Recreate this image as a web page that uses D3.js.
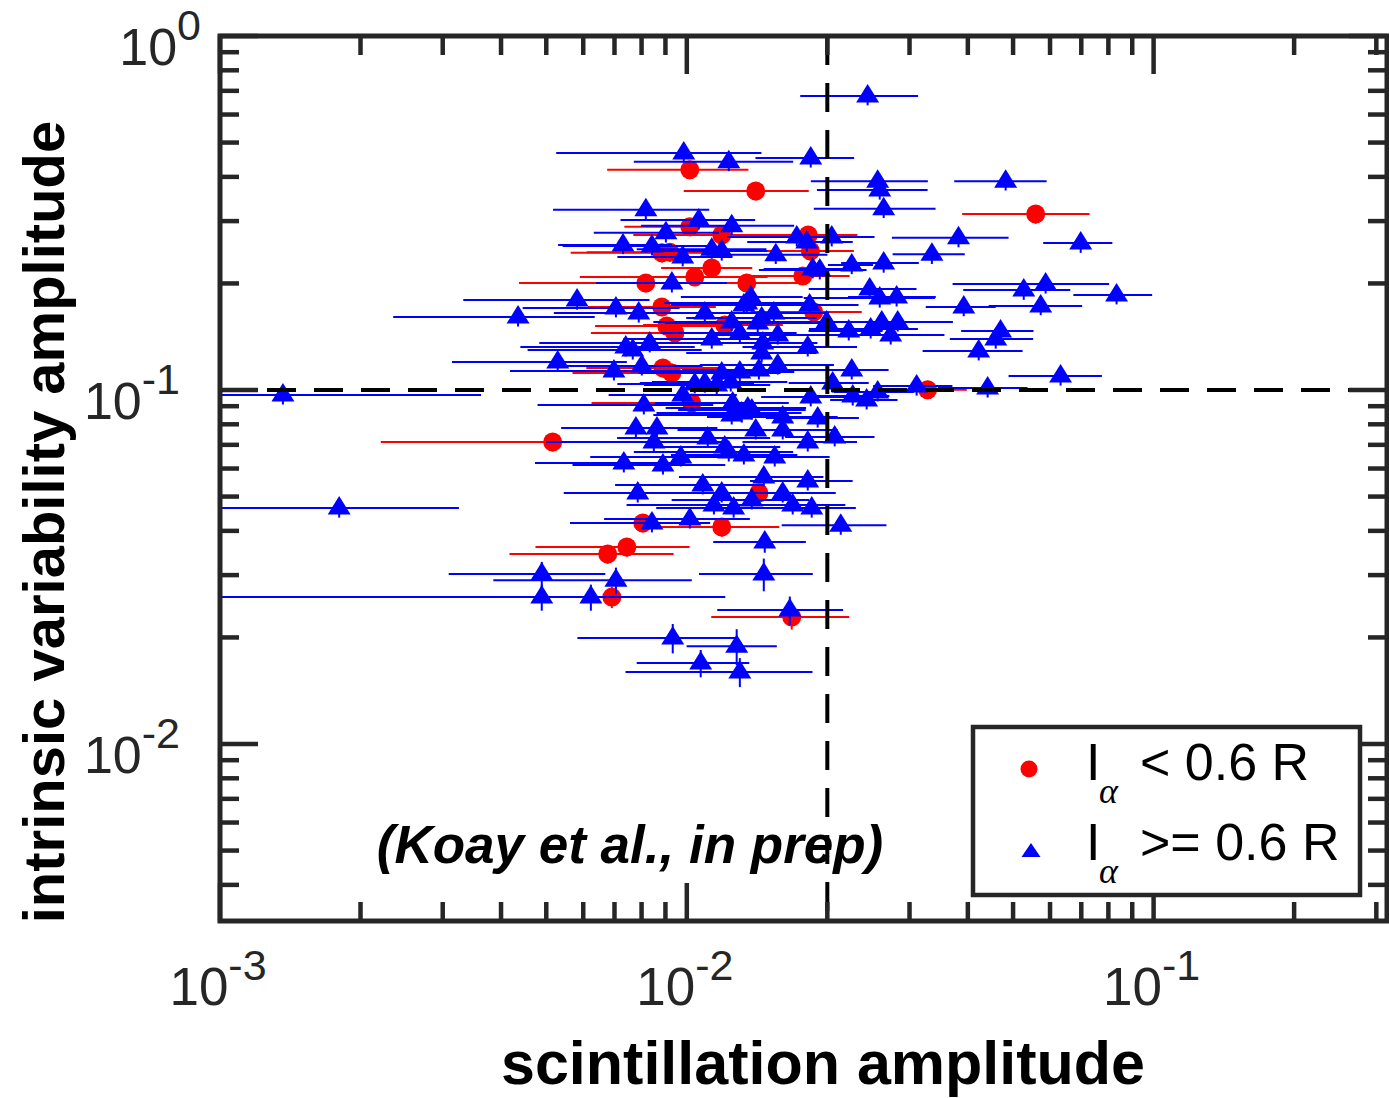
<!DOCTYPE html>
<html>
<head>
<meta charset="utf-8">
<script src="https://cdn.jsdelivr.net/npm/d3@7"></script>
<style>
  body { margin: 0; background: #fff; }
  svg { display: block; }
</style>
</head>
<body>
<svg id="chart" width="1389" height="1098"></svg>
<script>
// rows: [scintillation amplitude, intrinsic variability amplitude, x error, y error]
const lowHalpha = [
  [0.01015, 0.419, 0.0034, 0.025], [0.01405, 0.365, 0.0042, 0.022], [0.0559, 0.314, 0.017, 0.019],
  [0.01015, 0.289, 0.0028, 0.017], [0.01188, 0.274, 0.0042, 0.016], [0.0182, 0.274, 0.005, 0.016],
  [0.0184, 0.247, 0.0044, 0.015], [0.00884, 0.244, 0.0032, 0.015], [0.0092, 0.245, 0.0031, 0.015],
  [0.01131, 0.221, 0.0025, 0.013], [0.0104, 0.2085, 0.0045, 0.012], [0.01344, 0.2006, 0.0047, 0.012],
  [0.01772, 0.210, 0.0046, 0.012], [0.00817, 0.2006, 0.0038, 0.012], [0.00884, 0.1716, 0.0027, 0.010],
  [0.00906, 0.1516, 0.0027, 0.009], [0.00943, 0.1449, 0.0032, 0.009], [0.01206, 0.1526, 0.004, 0.009],
  [0.0187, 0.1661, 0.005, 0.010], [0.00889, 0.1154, 0.0028, 0.007], [0.00929, 0.1117, 0.0036, 0.007],
  [0.0328, 0.1002, 0.007, 0.006], [0.01025, 0.0919, 0.004, 0.0055], [0.00516, 0.0713, 0.00295, 0.0043],
  [0.01427, 0.0512, 0.0057, 0.0031], [0.00805, 0.0421, 0.0023, 0.0025], [0.01188, 0.0410, 0.0039, 0.0025],
  [0.00744, 0.0360, 0.0027, 0.0022], [0.00677, 0.0344, 0.0026, 0.0021], [0.00691, 0.0260, 0.0024, 0.0018],
  [0.01678, 0.02285, 0.0055, 0.0018]
];

const highHalpha = [
  [0.0244, 0.677, 0.0069, 0.04], [0.00985, 0.467, 0.0046, 0.028], [0.0123, 0.441, 0.0046, 0.026],
  [0.01843, 0.452, 0.0044, 0.027], [0.02564, 0.389, 0.0072, 0.023], [0.0259, 0.367, 0.0069, 0.022],
  [0.02641, 0.325, 0.0077, 0.019], [0.0482, 0.389, 0.0108, 0.023], [0.00817, 0.323, 0.003, 0.019],
  [0.0382, 0.269, 0.0107, 0.016], [0.0698, 0.260, 0.0118, 0.016], [0.0335, 0.242, 0.0059, 0.015],
  [0.01061, 0.302, 0.0034, 0.018], [0.01248, 0.291, 0.0045, 0.017], [0.00902, 0.278, 0.0027, 0.017],
  [0.0172, 0.2705, 0.005, 0.016], [0.01807, 0.262, 0.0046, 0.016], [0.02044, 0.2705, 0.0048, 0.016],
  [0.0073, 0.257, 0.002, 0.015], [0.00842, 0.255, 0.003, 0.015], [0.0098, 0.2375, 0.0027, 0.014],
  [0.01131, 0.250, 0.0035, 0.015], [0.01188, 0.247, 0.003, 0.015], [0.01551, 0.241, 0.0045, 0.014],
  [0.02256, 0.2255, 0.0025, 0.013], [0.02641, 0.2285, 0.005, 0.014], [0.01861, 0.2197, 0.004, 0.013],
  [0.01927, 0.2183, 0.005, 0.013], [0.00929, 0.2006, 0.0029, 0.012], [0.02465, 0.1929, 0.0064, 0.012],
  [0.0259, 0.1819, 0.0081, 0.011], [0.02815, 0.1831, 0.006, 0.011], [0.0527, 0.1917, 0.0136, 0.012],
  [0.0587, 0.1993, 0.0216, 0.012], [0.0833, 0.1855, 0.016, 0.011], [0.00582, 0.1796, 0.0025, 0.011],
  [0.01371, 0.1831, 0.004, 0.011], [0.01344, 0.1761, 0.0045, 0.011], [0.00705, 0.1704, 0.0026, 0.010],
  [0.00789, 0.1651, 0.0027, 0.010], [0.01093, 0.1651, 0.0035, 0.010], [0.01325, 0.1739, 0.004, 0.010],
  [0.01536, 0.1651, 0.0048, 0.010], [0.01833, 0.1739, 0.005, 0.010], [0.0392, 0.1716, 0.0067, 0.010],
  [0.0573, 0.1727, 0.013, 0.010], [0.00435, 0.1608, 0.002, 0.0097], [0.01248, 0.1556, 0.004, 0.0093],
  [0.01447, 0.1597, 0.0045, 0.0096], [0.01419, 0.1546, 0.0052, 0.0093], [0.01994, 0.1556, 0.005, 0.0093],
  [0.02223, 0.1468, 0.004, 0.0088], [0.02477, 0.1487, 0.0065, 0.0089], [0.02616, 0.1556, 0.011, 0.0093],
  [0.0283, 0.1556, 0.007, 0.0093], [0.02734, 0.143, 0.0083, 0.0086], [0.0470, 0.1468, 0.0083, 0.0088],
  [0.0459, 0.1393, 0.0093, 0.0084], [0.01131, 0.1393, 0.004, 0.0084], [0.01299, 0.1449, 0.0042, 0.0087],
  [0.01566, 0.143, 0.0043, 0.0086], [0.0074, 0.1323, 0.003, 0.0079], [0.00766, 0.1297, 0.0031, 0.0078],
  [0.00833, 0.1358, 0.0035, 0.0081], [0.01455, 0.1358, 0.0045, 0.0081], [0.01816, 0.1323, 0.005, 0.0079],
  [0.0422, 0.1289, 0.0102, 0.0077], [0.00529, 0.120, 0.00215, 0.0072], [0.00698, 0.1132, 0.0028, 0.0068],
  [0.00801, 0.1169, 0.0028, 0.007], [0.01447, 0.1272, 0.0045, 0.0076], [0.01566, 0.1177, 0.005, 0.0071],
  [0.01427, 0.1139, 0.0045, 0.0068], [0.01299, 0.1124, 0.004, 0.0067], [0.01188, 0.1117, 0.004, 0.0067],
  [0.02256, 0.1139, 0.0045, 0.0068], [0.0632, 0.1095, 0.0143, 0.0066], [0.01242, 0.1053, 0.004, 0.0063],
  [0.01159, 0.1033, 0.0035, 0.0062], [0.01093, 0.1046, 0.003, 0.0063], [0.0104, 0.104, 0.0033, 0.0062],
  [0.02053, 0.1046, 0.004, 0.0063], [0.03107, 0.1026, 0.006, 0.0062], [0.0441, 0.1013, 0.0096, 0.0061],
  [0.001364, 0.0968, 0.00226, 0.0058], [0.0098, 0.0968, 0.003, 0.0058], [0.02564, 0.0987, 0.005, 0.0059],
  [0.02428, 0.0937, 0.004, 0.0056], [0.01843, 0.0956, 0.004, 0.0057], [0.02267, 0.0962, 0.0045, 0.0058],
  [0.00809, 0.0907, 0.0033, 0.0054], [0.01254, 0.0919, 0.004, 0.0055], [0.01351, 0.089, 0.0045, 0.0053],
  [0.01248, 0.085, 0.004, 0.0051], [0.01311, 0.0861, 0.0045, 0.0052], [0.01378, 0.0878, 0.0042, 0.0053],
  [0.01605, 0.0839, 0.005, 0.005], [0.01907, 0.0833, 0.0043, 0.005], [0.00778, 0.0781, 0.0024, 0.0047],
  [0.00863, 0.0781, 0.003, 0.0047], [0.0085, 0.0713, 0.0035, 0.0043], [0.01109, 0.0732, 0.004, 0.0044],
  [0.01405, 0.0771, 0.0045, 0.0046], [0.01605, 0.0771, 0.005, 0.0046], [0.01816, 0.0713, 0.005, 0.0043],
  [0.02074, 0.0737, 0.0045, 0.0044], [0.01206, 0.069, 0.0038, 0.0041], [0.0123, 0.0668, 0.0046, 0.004],
  [0.00733, 0.0622, 0.0026, 0.0037], [0.00889, 0.0614, 0.0032, 0.0037], [0.00971, 0.0647, 0.0035, 0.0039],
  [0.01325, 0.0655, 0.004, 0.0039], [0.01543, 0.0647, 0.0048, 0.0039], [0.01462, 0.0568, 0.005, 0.0034],
  [0.01816, 0.0553, 0.0045, 0.0033], [0.01082, 0.0539, 0.0038, 0.0032], [0.00785, 0.0512, 0.0024, 0.0031],
  [0.01188, 0.0512, 0.0045, 0.0031], [0.01605, 0.0512, 0.0048, 0.0031], [0.01378, 0.0489, 0.0045, 0.0029],
  [0.01143, 0.0473, 0.004, 0.0028], [0.0126, 0.0464, 0.004, 0.0028], [0.01686, 0.0473, 0.005, 0.0028],
  [0.01852, 0.0464, 0.0045, 0.0028], [0.0018, 0.0464, 0.00145, 0.0028], [0.01015, 0.0432, 0.0035, 0.0026],
  [0.00842, 0.0421, 0.0028, 0.0025], [0.02137, 0.0415, 0.0054, 0.0025], [0.01469, 0.0372, 0.0033, 0.0025],
  [0.00489, 0.0302, 0.0018, 0.0025], [0.00705, 0.029, 0.0032, 0.0025], [0.01462, 0.0302, 0.004, 0.0032],
  [0.00489, 0.026, 0.0072, 0.0022], [0.00623, 0.026, 0.0025, 0.0022], [0.01662, 0.0239, 0.005, 0.0022],
  [0.00933, 0.01993, 0.0035, 0.0019], [0.01279, 0.0189, 0.0028, 0.0022], [0.01071, 0.01693, 0.0029, 0.0015],
  [0.01299, 0.01598, 0.0056, 0.0015]
];

const xLimits = [1e-3, Math.pow(10, -0.5)];
const yLimits = [Math.pow(10, -2.5), 1];
const xTickExp = [-3, -2, -1];
const yTickExp = [-2, -1, 0];
const scintCut = 0.02;       // vertical dashed line
const intrinsicCut = 0.1;    // horizontal dashed line
const legendLabels = [['<', ' 0.6 R'], ['>=', ' 0.6 R']];

const W = 1389, H = 1098;
const L = 220, R = 1387, T = 36, B = 921;
const ink = '#262626';
const sans = '"Liberation Sans", Arial, Helvetica, sans-serif';

const svg = d3.select('#chart');
svg.append('rect').attr('width', W).attr('height', H).attr('fill', '#fff');

const x = d3.scaleLog().domain(xLimits).range([L, R]);
const y = d3.scaleLog().domain(yLimits).range([B, T]);

svg.append('defs').append('clipPath').attr('id', 'plotClip')
  .append('rect').attr('x', L).attr('y', T).attr('width', R - L).attr('height', B - T);

const plot = svg.append('g').attr('clip-path', 'url(#plotClip)');

const triPath = 'M0,-12L11.5,6.5L-11.5,6.5Z';

function drawSeries(rows, color, shape) {
  const g = plot.append('g');
  g.selectAll('line.xe').data(rows).join('line')
    .attr('x1', d => x(Math.max(d[0] - d[2], 5e-4)))
    .attr('x2', d => x(d[0] + d[2]))
    .attr('y1', d => y(d[1])).attr('y2', d => y(d[1]))
    .attr('stroke', color).attr('stroke-width', 2);
  g.selectAll('line.ye').data(rows).join('line')
    .attr('x1', d => x(d[0])).attr('x2', d => x(d[0]))
    .attr('y1', d => y(d[1] - d[3])).attr('y2', d => y(d[1] + d[3]))
    .attr('stroke', color).attr('stroke-width', 2);
  if (shape === 'circle') {
    g.selectAll('circle').data(rows).join('circle')
      .attr('cx', d => x(d[0])).attr('cy', d => y(d[1])).attr('r', 9.5)
      .attr('fill', color);
  } else {
    g.selectAll('path').data(rows).join('path')
      .attr('d', triPath)
      .attr('transform', d => `translate(${x(d[0])},${y(d[1])})`)
      .attr('fill', color);
  }
}

drawSeries(lowHalpha, '#ff0000', 'circle');
drawSeries(highHalpha, '#0000ff', 'triangle');

// reference lines
plot.append('line')
  .attr('x1', x(scintCut)).attr('x2', x(scintCut)).attr('y1', T).attr('y2', B)
  .attr('stroke', '#000').attr('stroke-width', 4).attr('stroke-dasharray', '29,18');
plot.append('line')
  .attr('x1', L).attr('x2', R).attr('y1', y(intrinsicCut)).attr('y2', y(intrinsicCut))
  .attr('stroke', '#000').attr('stroke-width', 4).attr('stroke-dasharray', '29,18');

// axes box + inward ticks on all four sides
const axes = svg.append('g').attr('stroke', ink).attr('stroke-width', 4.5);
const isMajor = v => Math.abs(Math.log10(v) - Math.round(Math.log10(v))) < 1e-6;
x.ticks().forEach(v => {
  const len = isMajor(v) ? 38 : 19, px = x(v);
  axes.append('line').attr('x1', px).attr('x2', px).attr('y1', B).attr('y2', B - len);
  axes.append('line').attr('x1', px).attr('x2', px).attr('y1', T).attr('y2', T + len);
});
y.ticks().forEach(v => {
  const len = isMajor(v) ? 38 : 19, py = y(v);
  axes.append('line').attr('x1', L).attr('x2', L + len).attr('y1', py).attr('y2', py);
  axes.append('line').attr('x1', R).attr('x2', R - len).attr('y1', py).attr('y2', py);
});
axes.append('rect').attr('x', L).attr('y', T).attr('width', R - L).attr('height', B - T)
  .attr('fill', 'none').attr('stroke-width', 5);

// tick labels
function powerLabel(sel, e) {
  sel.append('tspan').text('10');
  sel.append('tspan').attr('font-size', 43).attr('dy', -25).text(String(e));
}
xTickExp.forEach(e => {
  const t = svg.append('text')
    .attr('x', x(Math.pow(10, e)) - 2).attr('y', 1005)
    .attr('text-anchor', 'middle').attr('font-family', sans).attr('font-size', 53).attr('fill', ink);
  powerLabel(t, e);
});
yTickExp.forEach(e => {
  const t = svg.append('text')
    .attr('x', e < 0 ? 180 : 201).attr('y', y(Math.pow(10, e)) + 29)
    .attr('text-anchor', 'end').attr('font-family', sans).attr('font-size', 52).attr('fill', ink);
  powerLabel(t, e);
});

// axis titles
svg.append('text')
  .attr('x', 823).attr('y', 1084).attr('text-anchor', 'middle')
  .attr('font-family', sans).attr('font-weight', 'bold').attr('font-size', 61).attr('fill', '#000')
  .text('scintillation amplitude');
svg.append('text')
  .attr('transform', 'translate(64,522) rotate(-90)').attr('text-anchor', 'middle')
  .attr('font-family', sans).attr('font-weight', 'bold').attr('font-size', 58).attr('fill', '#000')
  .text('intrinsic variability amplitude');

// annotation
svg.append('text')
  .attr('x', 630).attr('y', 863).attr('text-anchor', 'middle')
  .attr('font-family', sans).attr('font-weight', 'bold').attr('font-style', 'italic')
  .attr('font-size', 53).attr('fill', '#000')
  .text('(Koay et al., in prep)');

// legend
const leg = svg.append('g');
leg.append('rect').attr('x', 973).attr('y', 727).attr('width', 387).attr('height', 168)
  .attr('fill', '#fff').attr('stroke', ink).attr('stroke-width', 4.5);
leg.append('circle').attr('cx', 1029).attr('cy', 769).attr('r', 8.5).attr('fill', '#ff0000');
leg.append('path').attr('d', 'M0,-8L9.5,6L-9.5,6Z').attr('transform', 'translate(1031,851)').attr('fill', '#0000ff');
legendLabels.forEach((lab, i) => {
  const by = 780 + i * 80;
  leg.append('text').attr('x', 1086).attr('y', by)
    .attr('font-family', sans).attr('font-size', 52).attr('fill', '#000').text('I');
  leg.append('text').attr('x', 1099).attr('y', by + 23)
    .attr('font-family', '"Liberation Serif", "DejaVu Serif", serif').attr('font-style', 'italic')
    .attr('font-size', 36).attr('fill', '#000').text('α');
  leg.append('text').attr('x', 1140).attr('y', by)
    .attr('font-family', sans).attr('font-size', 52).attr('fill', '#000')
    .text(lab[0] + lab[1]);
});
</script>
</body>
</html>
